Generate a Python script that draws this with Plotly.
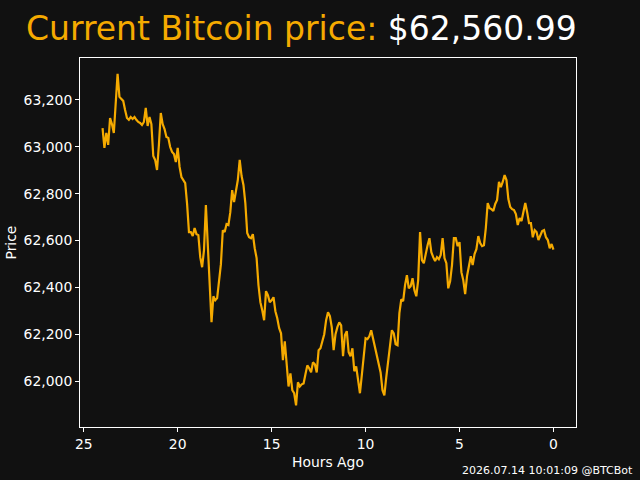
import numpy as np
import plotly.graph_objects as go

# Sample interval in hours (data from 24.0 h ago to now)
interval_hours = 0.1
price = [
    63080, 62995, 63059, 63008, 63123, 63097, 63059, 63179, 63311, 63213,
    63204, 63196, 63157, 63123, 63115, 63127, 63119, 63127, 63115, 63106,
    63102, 63093, 63106, 63166, 63089, 63127, 63097, 62961, 62944, 62901,
    63008, 63144, 63097, 63076, 63042, 63038, 62999, 62978, 62969, 62935,
    62995, 62914, 62871, 62858, 62845, 62756, 62636, 62636, 62619, 62653,
    62627, 62623, 62529, 62486, 62559, 62751, 62559, 62388, 62251, 62362,
    62345, 62354, 62422, 62499, 62644, 62636, 62670, 62666, 62721, 62815,
    62764, 62807, 62858, 62944, 62875, 62837, 62760, 62632, 62614, 62610,
    62627, 62567, 62525, 62409, 62337, 62302, 62260, 62384, 62367, 62337,
    62345, 62358, 62298, 62268, 62226, 62204, 62089, 62170, 62055, 61977,
    62033, 61961, 61948, 61896, 61995, 61977, 61986, 61990, 62029, 62067,
    62055, 62037, 62080, 62072, 62037, 62132, 62140, 62170, 62200, 62260,
    62294, 62277, 62230, 62132, 62200, 62230, 62251, 62238, 62106, 62196,
    62213, 62123, 62106, 62140, 62042, 62063, 62003, 61948, 62025, 62114,
    62183, 62179, 62191, 62217, 62179, 62153, 62102, 62063, 62037, 61961,
    61939, 62016, 62085, 62149, 62217, 62204, 62157, 62153, 62290, 62349,
    62341, 62409, 62452, 62396, 62405, 62439, 62388, 62362, 62431, 62636,
    62516, 62503, 62550, 62580, 62610, 62550, 62529, 62512, 62529, 62520,
    62538, 62610, 62525, 62503, 62396, 62426, 62495, 62610, 62610, 62576,
    62593, 62465, 62431, 62371, 62448, 62486, 62533, 62495, 62542, 62563,
    62619, 62589, 62576, 62580, 62653, 62760, 62738, 62734, 62726, 62756,
    62773, 62850, 62828, 62850, 62879, 62858, 62777, 62743, 62734, 62730,
    62713, 62666, 62696, 62683, 62726, 62760, 62721, 62674, 62674, 62614,
    62644, 62636, 62602, 62619, 62640, 62644, 62614, 62602, 62567, 62585,
    62560.99,
]
hours_ago = np.round((len(price) - 1 - np.arange(len(price))) * interval_hours, 2)

current_price_text = "$62,560.99"
title_label = "Current Bitcoin price: "
footer_text = "2026.07.14 10:01:09 @BTCBot"
x_ticks = [0, 5, 10, 15, 20, 25]
y_ticks = [62000, 62200, 62400, 62600, 62800, 63000, 63200]

BG = "#111111"
ORANGE = "#F5AA00"
FONT = "DejaVu Sans"

fig = go.Figure()
fig.add_trace(go.Scatter(
    x=hours_ago, y=price, mode="lines",
    line=dict(color=ORANGE, width=2.2), hoverinfo="skip", showlegend=False,
))

axis_common = dict(
    showgrid=False, zeroline=False, showline=True, mirror=True,
    linecolor="white", linewidth=1, ticks="outside", ticklen=4,
    tickcolor="white", tickwidth=1,
    tickfont=dict(family=FONT, size=13.9, color="white"),
)

fig.update_layout(
    width=640, height=480,
    paper_bgcolor=BG, plot_bgcolor=BG,
    margin=dict(l=80, r=64, t=58, b=53),
    font=dict(family=FONT, color="white"),
    xaxis=dict(range=[25.2, -1.2], tickvals=x_ticks, **axis_common),
    yaxis=dict(range=[61804, 63379], tickvals=y_ticks, tickformat=",d", **axis_common),
    annotations=[
        dict(text=f"<span style='color:{ORANGE}'>{title_label}</span>{current_price_text}",
             xref="paper", yref="paper", x=(24 - 80) / 496, y=(427 - 29) / 369,
             xanchor="left", yanchor="middle", showarrow=False,
             font=dict(family=FONT, size=33, color="white")),
        dict(text="Hours Ago", xref="paper", yref="paper", x=0.5, y=(427 - 462) / 369,
             xanchor="center", yanchor="middle", showarrow=False,
             font=dict(family=FONT, size=13.9, color="white")),
        dict(text="Price", xref="paper", yref="paper", x=(10 - 80) / 496, y=0.5,
             xanchor="center", yanchor="middle", textangle=-90, showarrow=False,
             font=dict(family=FONT, size=13.9, color="white")),
        dict(text=footer_text, xref="paper", yref="paper", x=(635 - 80) / 496, y=(427 - 470.5) / 369,
             xanchor="right", yanchor="middle", showarrow=False,
             font=dict(family=FONT, size=11, color="white")),
    ],
)

fig.write_html("out.html")
